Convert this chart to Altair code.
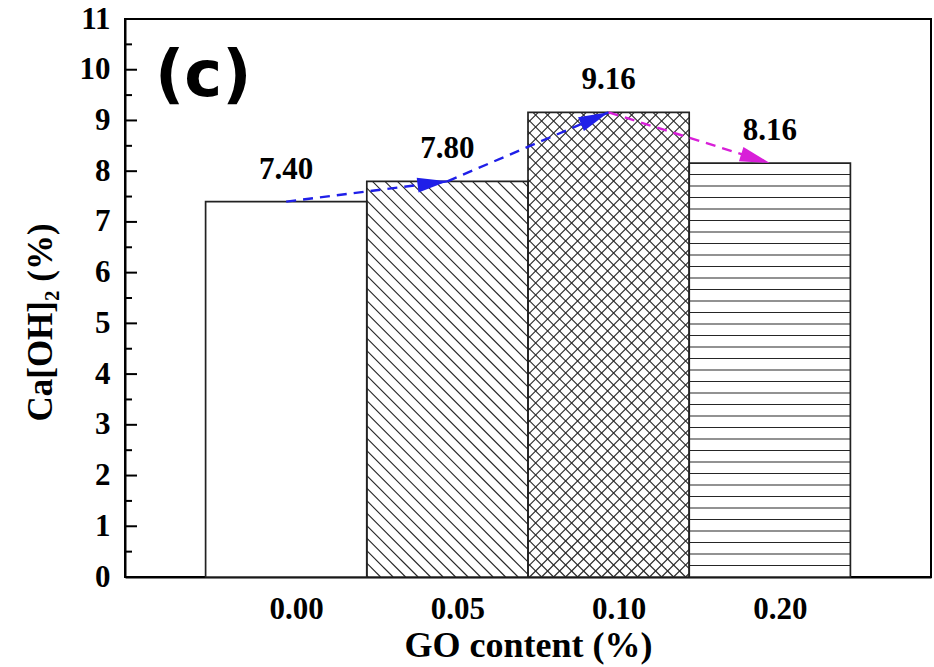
import json
import math

import altair as alt
import pandas as pd

# GO dosage groups and the Ca(OH)2 content measured for each
categories = ["0.00", "0.05", "0.10", "0.20"]
ca_oh2 = [7.40, 7.80, 9.16, 8.16]
value_labels = ["7.40", "7.80", "9.16", "8.16"]

# fill texture of each bar
hatch_styles = ["none", "back", "cross", "horiz"]
hatch_step_px = {"back": 12.5, "cross": 12.0, "horiz": 11.5}

# trend arrows between consecutive groups
arrow_colors = ["#1f1fe8", "#1f1fe8", "#d81fd8"]

# y-axis tick positions (drawn pointing into the plot)
major_ticks = list(range(1, 11))
minor_ticks = [k + 0.5 for k in range(0, 11)]

W, H = 806, 558
X_DOMAIN = [-0.5, len(categories) + 0.5]
Y_DOMAIN = [0, 11]
KX = W / (X_DOMAIN[1] - X_DOMAIN[0])   # px per x unit
KY = H / (Y_DOMAIN[1] - Y_DOMAIN[0])   # px per y unit

SERIF = "Liberation Serif"

xs = alt.Scale(domain=X_DOMAIN, nice=False, zero=False)
ys = alt.Scale(domain=Y_DOMAIN, nice=False, zero=False)


def hatch_segments(x0, x1, top, style):
    """Line segments (in data units) that fill the rectangle [x0,x1]x[0,top]."""
    if style == "none":
        return []
    step = hatch_step_px[style]
    X0, X1, T = x0 * KX, x1 * KX, top * KY
    segs = []
    if style in ("back", "cross"):
        # lines X + Y = c  (falling to the right on screen)
        c = math.ceil(X0 / step) * step
        while c < X1 + T:
            xa, xb = max(X0, c - T), min(X1, c)
            if xb > xa:
                segs.append((xa, c - xa, xb, c - xb))
            c += step
    if style == "cross":
        # lines Y = X + c  (rising to the right on screen)
        c = math.ceil(-X1 / step) * step
        while c < T - X0:
            xa, xb = max(X0, -c), min(X1, T - c)
            if xb > xa:
                segs.append((xa, xa + c, xb, xb + c))
            c += step
    if style == "horiz":
        yv = step
        while yv < T - 0.5:
            segs.append((X0, yv, X1, yv))
            yv += step
    return [(a / KX, b / KY, c / KX, d / KY) for a, b, c, d in segs]


bars = pd.DataFrame({
    "lo": [float(i) for i in range(len(categories))],
    "hi": [float(i + 1) for i in range(len(categories))],
    "center": [i + 0.5 for i in range(len(categories))],
    "base": [0.0] * len(categories),
    "val": ca_oh2,
    "label": value_labels,
})

hatch_rows = []
for i, style in enumerate(hatch_styles):
    for x1, y1, x2, y2 in hatch_segments(i, i + 1, ca_oh2[i], style):
        hatch_rows.append({"x": x1, "y": y1, "x2": x2, "y2": y2})
hatch = pd.DataFrame(hatch_rows)

arrow_rows = []
for i in range(len(categories) - 1):
    xa, ya = i + 0.5, ca_oh2[i]
    xb, yb = i + 1.5, ca_oh2[i + 1]
    ang = math.degrees(math.atan2(-(yb - ya) * KY, (xb - xa) * KX)) % 360
    arrow_rows.append({"x": xa, "y": ya, "x2": xb, "y2": yb,
                       "angle": ang, "color": arrow_colors[i]})
arrows = pd.DataFrame(arrow_rows)

x_axis = alt.Axis(
    values=[i + 0.5 for i in range(len(categories))],
    labelExpr=f"{json.dumps(categories)}[round(datum.value - 0.5)]",
    title="GO content (%)",
    tickSize=0, labelPadding=17, labelOffset=10, grid=False,
    labelFont=SERIF, labelFontSize=31, labelFontWeight="bold", labelColor="black",
    titleFont=SERIF, titleFontSize=36, titleFontWeight="bold", titleColor="black",
    titleY=79, titleBaseline="alphabetic", labelFlush=False,
)
y_axis = alt.Axis(
    values=list(range(0, 12)),
    title="Ca[OH]₂ (%)",
    tickSize=0, labelPadding=15, grid=False,
    labelFont=SERIF, labelFontSize=31, labelFontWeight="bold", labelColor="black",
    titleFont=SERIF, titleFontSize=35, titleFontWeight="bold", titleColor="black",
    titleX=-74, titleY=303, titleAlign="center", titleBaseline="alphabetic",
    titleAngle=270,
)


def X(field):
    return alt.X(field, scale=xs, axis=x_axis)


def Y(field):
    return alt.Y(field, scale=ys, axis=y_axis)


bar_fill = alt.Chart(bars).mark_rect(fill="white", strokeWidth=0).encode(
    x=X("lo:Q"), x2="hi:Q", y=Y("base:Q"), y2="val:Q",
)

hatch_layer = alt.Chart(hatch).mark_rule(color="#262626", strokeWidth=1.1).encode(
    x=X("x:Q"), y=Y("y:Q"), x2="x2:Q", y2="y2:Q",
)

bar_outline = alt.Chart(bars).mark_rect(
    fillOpacity=0, stroke="#222222", strokeWidth=1.7
).encode(
    x=X("lo:Q"), x2="hi:Q", y=Y("base:Q"), y2="val:Q",
)

arrow_lines = alt.Chart(arrows).mark_rule(strokeWidth=2.4, strokeDash=[10, 7]).encode(
    x=X("x:Q"), y=Y("y:Q"), x2="x2:Q", y2="y2:Q",
    color=alt.Color("color:N", scale=None),
)

arrow_heads = alt.Chart(arrows).mark_point(
    shape="M-2,-0.5L0,0L-2,0.5Z", filled=True, size=900, opacity=1
).encode(
    x=X("x2:Q"), y=Y("y2:Q"),
    angle=alt.Angle("angle:Q", scale=None),
    color=alt.Color("color:N", scale=None),
)

value_text = alt.Chart(bars).mark_text(
    font=SERIF, fontSize=31, fontWeight="bold", color="black",
    dy=-32, baseline="middle", align="center",
).encode(
    x=X("center:Q"), y=Y("val:Q"), text="label:N",
)

major_layer = alt.Chart(pd.DataFrame({"v": major_ticks})).mark_rule(
    color="black", strokeWidth=2
).encode(
    y=Y("v:Q"), x=alt.value(0), x2=alt.value(12),
)

minor_layer = alt.Chart(pd.DataFrame({"v": minor_ticks})).mark_rule(
    color="black", strokeWidth=2
).encode(
    y=Y("v:Q"), x=alt.value(0), x2=alt.value(7),
)

panel_tag = alt.Chart(pd.DataFrame({"t": ["(c)"]})).mark_text(
    font="DejaVu Sans", fontSize=64, fontWeight="bold", color="black",
    align="left", baseline="middle",
).encode(
    x=alt.value(30), y=alt.value(58), text="t:N",
)

chart = alt.layer(
    bar_fill, hatch_layer, bar_outline, arrow_lines, arrow_heads,
    value_text, major_layer, minor_layer, panel_tag,
).properties(
    width=W, height=H,
    autosize=alt.AutoSizeParams(type="none"),
    padding={"left": 125, "top": 19, "right": 3, "bottom": 90},
    background="white",
).configure_view(
    stroke="black", strokeWidth=2,
).configure_axis(
    domainColor="black", domainWidth=2,
)

chart.save("out.html", embed_options={"renderer": "svg", "actions": False})
